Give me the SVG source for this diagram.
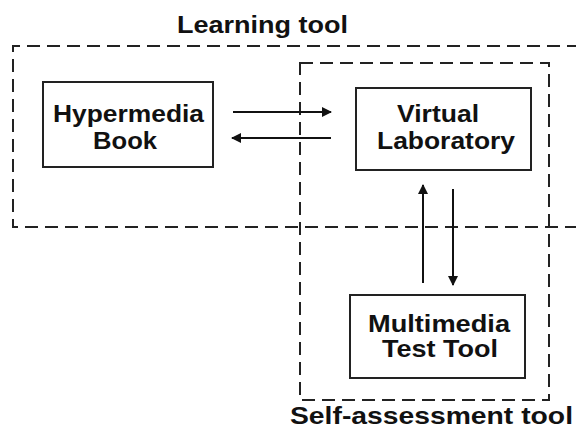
<svg xmlns="http://www.w3.org/2000/svg" width="576" height="430" viewBox="0 0 576 430">
<style>
.dash{fill:none;stroke:#222;stroke-width:2;stroke-dasharray:13 7}
.box{fill:#fff;stroke:#222;stroke-width:2}
.t{font-family:"Liberation Sans",Arial,sans-serif;font-weight:bold;font-size:24px;fill:#111}
.c{stroke:#111;stroke-width:2;fill:none;marker-end:url(#ah)}
</style>
<defs>
<marker id="ah" viewBox="0 0 10 10" refX="9" refY="5" markerWidth="5" markerHeight="5" orient="auto" markerUnits="strokeWidth">
<path d="M0,0 L10,5 L0,10 z" fill="#111"/>
</marker>
</defs>
<g id="learning-tool">
<path class="dash" d="M580 46 H13 V227 H580"/>
<text class="t" x="177" y="33" textLength="171" lengthAdjust="spacingAndGlyphs">Learning tool</text>
</g>
<g id="self-assessment-tool">
<rect class="dash" x="300" y="63" width="249" height="337"/>
<text class="t" x="290" y="424" textLength="283" lengthAdjust="spacingAndGlyphs">Self-assessment tool</text>
</g>
<g id="connectors">
<line class="c" x1="233" y1="112" x2="331" y2="112"/>
<line class="c" x1="331" y1="138" x2="232" y2="138"/>
<line class="c" x1="423" y1="283" x2="423" y2="185"/>
<line class="c" x1="453" y1="189" x2="453" y2="285"/>
</g>
<g id="hypermedia-book">
<rect class="box" x="43" y="82" width="170" height="85"/>
<text class="t" x="53" y="122" textLength="151" lengthAdjust="spacingAndGlyphs">Hypermedia</text>
<text class="t" x="93" y="149" textLength="64" lengthAdjust="spacingAndGlyphs">Book</text>
</g>
<g id="virtual-laboratory">
<rect class="box" x="356" y="88" width="175" height="82"/>
<text class="t" x="397" y="122" textLength="82" lengthAdjust="spacingAndGlyphs">Virtual</text>
<text class="t" x="377" y="149" textLength="138" lengthAdjust="spacingAndGlyphs">Laboratory</text>
</g>
<g id="multimedia-test-tool">
<rect class="box" x="350" y="295" width="175" height="83"/>
<text class="t" x="368" y="332" textLength="142" lengthAdjust="spacingAndGlyphs">Multimedia</text>
<text class="t" x="382" y="357" textLength="116" lengthAdjust="spacingAndGlyphs">Test Tool</text>
</g>
</svg>
